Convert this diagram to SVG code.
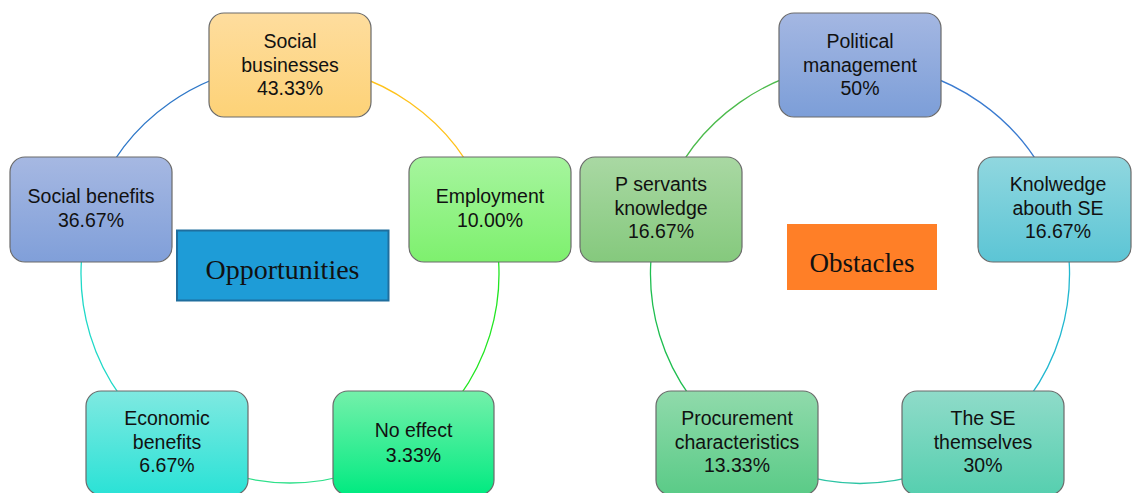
<svg xmlns="http://www.w3.org/2000/svg" width="1132" height="493" viewBox="0 0 1132 493">
  <defs>
    <linearGradient id="gBiz" x1="0" y1="0" x2="0" y2="1"><stop offset="0" stop-color="#fedd9e"/><stop offset="1" stop-color="#fdd277"/></linearGradient>
    <linearGradient id="gBen" x1="0" y1="0" x2="0" y2="1"><stop offset="0" stop-color="#a6b8e2"/><stop offset="1" stop-color="#809fd9"/></linearGradient>
    <linearGradient id="gEmp" x1="0" y1="0" x2="0" y2="1"><stop offset="0" stop-color="#a6f59e"/><stop offset="1" stop-color="#7ef06e"/></linearGradient>
    <linearGradient id="gEco" x1="0" y1="0" x2="0" y2="1"><stop offset="0" stop-color="#7fe9e1"/><stop offset="1" stop-color="#2ae2d6"/></linearGradient>
    <linearGradient id="gNo" x1="0" y1="0" x2="0" y2="1"><stop offset="0" stop-color="#74f0aa"/><stop offset="0.75" stop-color="#1fec8c"/><stop offset="1" stop-color="#00ea80"/></linearGradient>
    <linearGradient id="gPol" x1="0" y1="0" x2="0" y2="1"><stop offset="0" stop-color="#a4b7e2"/><stop offset="1" stop-color="#7c9ed8"/></linearGradient>
    <linearGradient id="gSrv" x1="0" y1="0" x2="0" y2="1"><stop offset="0" stop-color="#a9d8a3"/><stop offset="1" stop-color="#85c97d"/></linearGradient>
    <linearGradient id="gKno" x1="0" y1="0" x2="0" y2="1"><stop offset="0" stop-color="#90d7df"/><stop offset="1" stop-color="#5cc5d5"/></linearGradient>
    <linearGradient id="gPro" x1="0" y1="0" x2="0" y2="1"><stop offset="0" stop-color="#90daab"/><stop offset="1" stop-color="#5acb87"/></linearGradient>
    <linearGradient id="gSE" x1="0" y1="0" x2="0" y2="1"><stop offset="0" stop-color="#8fdbc9"/><stop offset="1" stop-color="#56cfaf"/></linearGradient>
  </defs>
  <style>
    .box { stroke: #6a6a6a; stroke-width: 1.2; }
    .lbl { font-family: "Liberation Sans", Arial, sans-serif; font-size: 19.5px; fill: #111; text-anchor: middle; }
    .title { font-family: "Liberation Serif", "Times New Roman", serif; font-size: 27px; fill: #111; text-anchor: middle; }
    .arc { fill: none; stroke-width: 1.3; }
  </style>
  <rect width="1132" height="493" fill="#ffffff"/>

  <!-- cycle connectors -->
  <g id="connectors">
    <path class="arc" stroke="#2f78c8" d="M 93.6 202.5 A 209 209 0 0 1 290 65"/>
    <path class="arc" stroke="#ffc21a" d="M 290 65 A 209 209 0 0 1 486.4 202.5"/>
    <path class="arc" stroke="#22e622" d="M 486.4 202.5 A 209 209 0 0 1 412.8 443.1"/>
    <path class="arc" stroke="#2ee08a" d="M 412.8 443.1 A 209 209 0 0 1 167.2 443.1"/>
    <path class="arc" stroke="#1fd9c8" d="M 167.2 443.1 A 209 209 0 0 1 93.6 202.5"/>

    <path class="arc" stroke="#4cbb4c" d="M 663.1 202.3 A 209.5 209.5 0 0 1 860 64.5"/>
    <path class="arc" stroke="#3a7bd0" d="M 860 64.5 A 209.5 209.5 0 0 1 1056.9 202.3"/>
    <path class="arc" stroke="#22b8d0" d="M 1056.9 202.3 A 209.5 209.5 0 0 1 983.1 443.5"/>
    <path class="arc" stroke="#2cc4a4" d="M 983.1 443.5 A 209.5 209.5 0 0 1 736.9 443.5"/>
    <path class="arc" stroke="#1fbe50" d="M 736.9 443.5 A 209.5 209.5 0 0 1 663.1 202.3"/>
  </g>

  <!-- Opportunities cycle -->
  <g id="social-businesses">
    <rect class="box" x="209" y="13" width="162" height="104" rx="15" fill="url(#gBiz)"/>
    <text class="lbl" x="290" y="48">Social</text>
    <text class="lbl" x="290" y="71.5">businesses</text>
    <text class="lbl" x="290" y="95">43.33%</text>
  </g>
  <g id="social-benefits">
    <rect class="box" x="10" y="157" width="162" height="105" rx="15" fill="url(#gBen)"/>
    <text class="lbl" x="91" y="203">Social benefits</text>
    <text class="lbl" x="91" y="227">36.67%</text>
  </g>
  <g id="employment">
    <rect class="box" x="409" y="157" width="162" height="105" rx="15" fill="url(#gEmp)"/>
    <text class="lbl" x="490" y="203">Employment</text>
    <text class="lbl" x="490" y="227">10.00%</text>
  </g>
  <g id="economic-benefits">
    <rect class="box" x="86" y="391" width="162" height="104" rx="15" fill="url(#gEco)"/>
    <text class="lbl" x="167" y="425">Economic</text>
    <text class="lbl" x="167" y="448.5">benefits</text>
    <text class="lbl" x="167" y="472">6.67%</text>
  </g>
  <g id="no-effect">
    <rect class="box" x="333" y="391" width="161" height="104" rx="15" fill="url(#gNo)"/>
    <text class="lbl" x="413.5" y="437">No effect</text>
    <text class="lbl" x="413.5" y="462">3.33%</text>
  </g>
  <g id="opportunities">
    <rect x="177" y="230.5" width="211.5" height="70" fill="#1e9cd7" stroke="#1f6e9e" stroke-width="2"/>
    <text class="title" x="282.5" y="279" style="font-size:28px">Opportunities</text>
  </g>

  <!-- Obstacles cycle -->
  <g id="political-management">
    <rect class="box" x="779" y="13" width="162" height="104" rx="15" fill="url(#gPol)"/>
    <text class="lbl" x="860" y="48">Political</text>
    <text class="lbl" x="860" y="71.5">management</text>
    <text class="lbl" x="860" y="95">50%</text>
  </g>
  <g id="p-servants-knowledge">
    <rect class="box" x="580" y="157" width="162" height="105" rx="15" fill="url(#gSrv)"/>
    <text class="lbl" x="661" y="191">P servants</text>
    <text class="lbl" x="661" y="214.5">knowledge</text>
    <text class="lbl" x="661" y="238">16.67%</text>
  </g>
  <g id="knowledge-about-se">
    <rect class="box" x="978" y="157" width="153" height="105" rx="15" fill="url(#gKno)"/>
    <text class="lbl" x="1058" y="191">Knolwedge</text>
    <text class="lbl" x="1058" y="214.5">abouth SE</text>
    <text class="lbl" x="1058" y="238">16.67%</text>
  </g>
  <g id="se-themselves">
    <rect class="box" x="902" y="391" width="162" height="104" rx="15" fill="url(#gSE)"/>
    <text class="lbl" x="983" y="425">The SE</text>
    <text class="lbl" x="983" y="448.5">themselves</text>
    <text class="lbl" x="983" y="472">30%</text>
  </g>
  <g id="procurement-characteristics">
    <rect class="box" x="656" y="391" width="162" height="104" rx="15" fill="url(#gPro)"/>
    <text class="lbl" x="737" y="425">Procurement</text>
    <text class="lbl" x="737" y="448.5">characteristics</text>
    <text class="lbl" x="737" y="472">13.33%</text>
  </g>
  <g id="obstacles">
    <rect x="787" y="224" width="150" height="66" fill="#ff7f27"/>
    <text class="title" x="862" y="272">Obstacles</text>
  </g>
</svg>
